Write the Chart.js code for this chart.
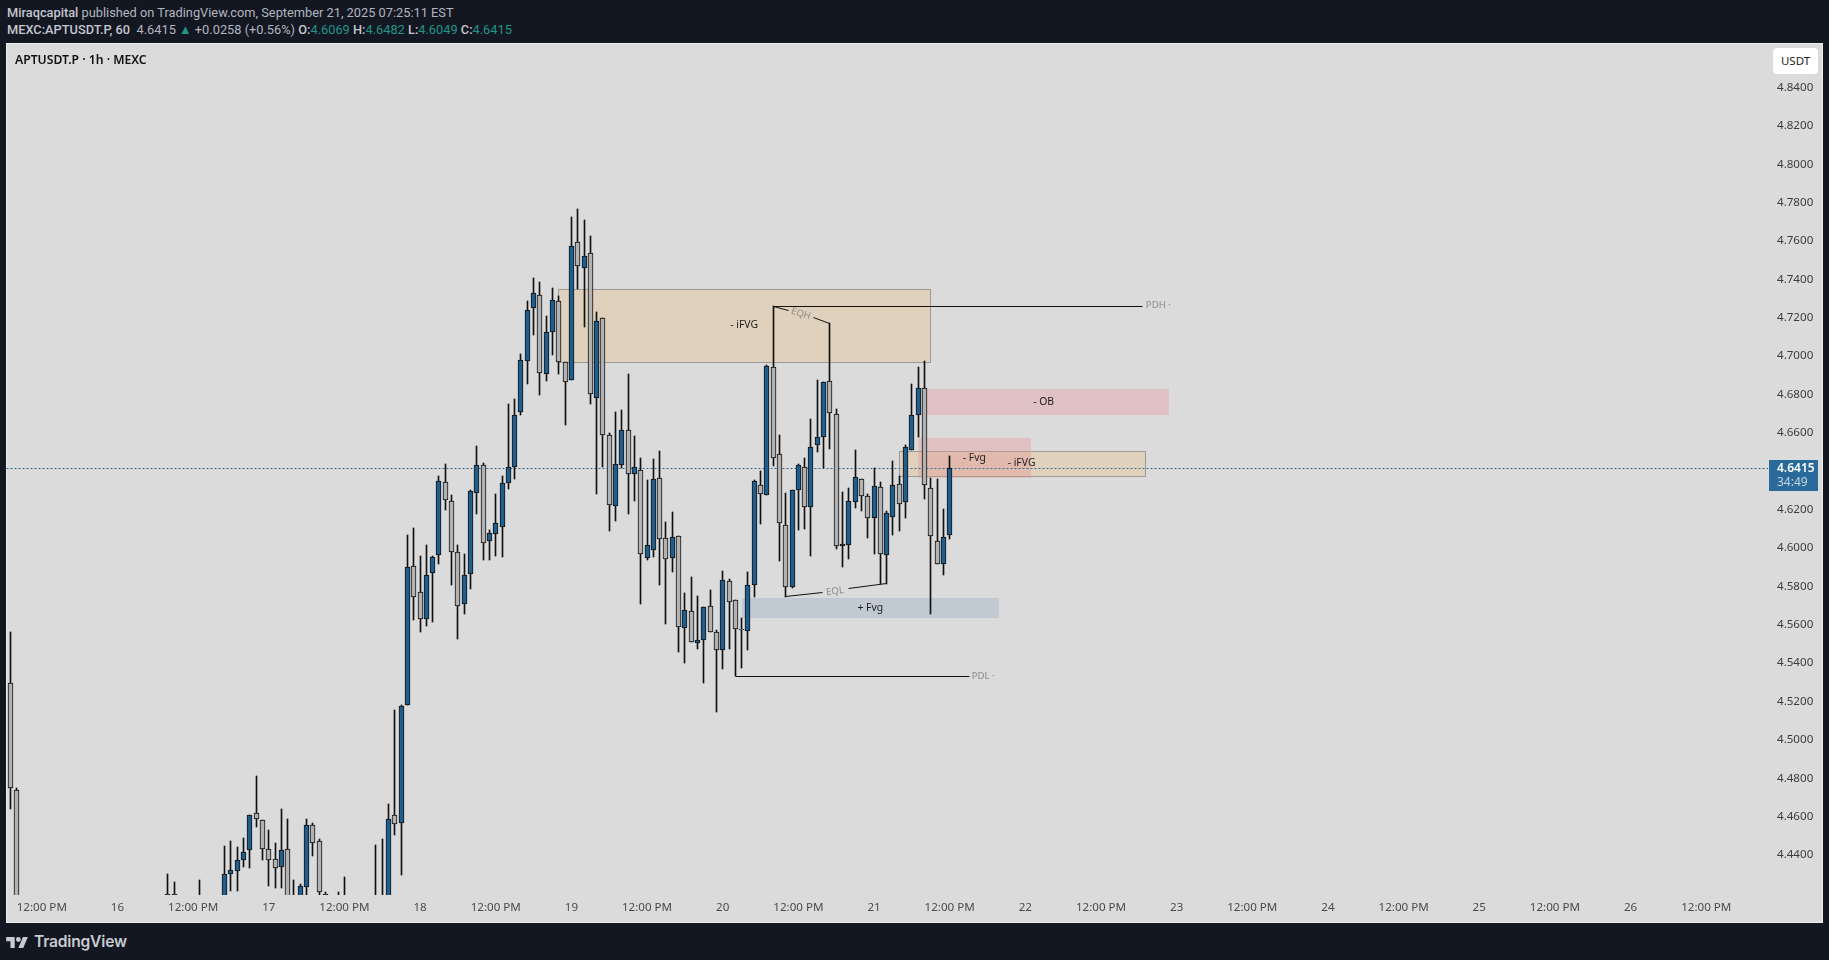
<!DOCTYPE html>
<html>
<head>
<meta charset="utf-8">
<title>APTUSDT.P 1h</title>
<script src="https://cdn.jsdelivr.net/npm/chart.js@4"></script>
<style>
  html, body { margin: 0; padding: 0; width: 1829px; height: 960px; overflow: hidden; background: #131722; font-family: "Noto Sans", sans-serif; }
  #head { position: absolute; left: 7px; top: 4px; color: #b2b5be; font-family: Roboto, sans-serif; font-size: 12.8px; line-height: 17px; white-space: pre; }
  #head b { font-weight: 500; color: #c3c6ce; }
  #head i { font-style: normal; color: #1f9688; }
  #panel { position: absolute; box-sizing: border-box; left: 6px; top: 43px; width: 1817px; height: 880px; background: #dbdbdb; border: 1px solid #eeeeee; }
  #chartCanvas { position: absolute; left: 6px; top: 43px; }
  #title { position: absolute; left: 15px; top: 51px; color: #111; font-size: 12.2px; font-weight: 600; line-height: 18px; }
  #unit { position: absolute; left: 1773px; top: 48px; width: 45px; height: 26px; line-height: 26px; text-align: center; background: #fff; border-radius: 4px; font-size: 11.5px; color: #222; }
  #logo { position: absolute; left: 6px; top: 930px; color: #c9cbd1; font-family: Inter, sans-serif; font-size: 15.6px; font-weight: 600; line-height: 24px; }
  #logo svg { position: absolute; left: 0; top: 7px; }
  #logo span { position: absolute; left: 28px; top: 0; letter-spacing: -0.2px; }
</style>
</head>
<body>
<div id="head"><b>Miraqcapital</b> published on TradingView.com, September 21, 2025 07:25:11 EST
<b>MEXC:APTUSDT.P, 60</b>  4.6415 <i>▲</i> +0.0258 (+0.56%) <b>O:</b><i>4.6069</i> <b>H:</b><i>4.6482</i> <b>L:</b><i>4.6049</i> <b>C:</b><i>4.6415</i></div>
<div id="panel"></div>
<canvas id="chartCanvas" width="1817" height="880"></canvas>
<div id="title">APTUSDT.P · 1h · MEXC</div>
<div id="unit">USDT</div>
<div id="logo">
  <svg width="22" height="11" viewBox="0 4 35.5 18" fill="#c9cbd1"><path d="M14 22H7V11H0V4h14v18zM28 22h-8l7.5-18h8L28 22z"/><circle cx="20" cy="8" r="4"/></svg>
  <span>TradingView</span>
</div>

<script>
  // hourly candles, index 0 is 07:00 on the 15th. null = whole candle is below the visible pane
  var opens = [
    4.5295,4.4737,null,null,null,null,null,null,null,null,
    null,null,null,null,null,null,null,null,null,null,
    null,null,null,null,null,4.4195,4.4195,null,null,null,
    4.415,null,null,null,4.41,4.4302,4.4315,4.4375,4.4424,4.4617,
    4.4581,4.4430,4.4377,4.4336,4.4430,4.415,4.41,4.4232,4.4555,4.4471,
    4.4195,null,4.415,4.415,null,null,null,null,4.415,4.415,
    4.41,4.4607,4.4565,4.5180,4.5905,4.5769,4.5628,4.5868,4.5962,4.6342,
    4.6243,4.5978,4.5707,4.5863,4.6285,4.6431,4.6035,4.6071,4.6108,4.6337,
    4.6423,4.6707,4.6973,4.7249,4.7317,4.6905,4.7124,4.7285,4.6967,4.6874,
    4.7593,4.7458,4.7536,4.6780,4.7197,4.6587,4.6217,4.6431,4.6613,4.6384,
    4.6405,4.5946,4.5988,4.6363,4.6050,4.5946,4.6061,4.5581,4.5670,4.5503,
    4.5519,4.5696,4.5561,4.5467,4.5826,4.5727,4.5576,4.5566,4.5805,4.6327,
    4.6275,4.6942,4.6488,4.6118,4.5795,4.6301,4.6420,4.6212,4.6535,4.6577,
    4.6868,4.6697,4.6009,4.6014,4.6238,4.6358,4.6269,4.6155,4.6316,4.5962,
    4.6160,4.6332,4.6238,4.6509,4.6691,4.6832,4.6311,4.6035,4.5915,4.6069
  ];
  var highs = [
    4.5562,4.4747,null,null,null,null,null,null,null,null,
    null,null,null,null,null,null,null,null,null,null,
    null,null,null,null,null,4.43,4.4257,null,null,null,
    4.4269,null,null,null,4.4446,4.4472,4.4441,4.4488,4.4607,4.4811,
    4.4581,4.4530,4.4462,4.4640,4.4588,4.4269,4.4247,4.4588,4.4567,4.4483,
    4.4207,null,4.4207,4.4285,null,null,null,null,4.4452,4.4483,
    4.4666,4.5156,4.5180,4.6066,4.6103,4.5958,4.6014,4.5958,4.6375,4.6438,
    4.6276,4.6014,4.5967,4.6301,4.6530,4.6441,4.6092,4.6281,4.6375,4.6750,
    4.6775,4.7011,4.7285,4.7406,4.7386,4.7207,4.7353,4.7311,4.6967,4.7724,
    4.7767,4.7708,4.7625,4.7228,4.7197,4.6597,4.6707,4.6718,4.6906,4.6582,
    4.6467,4.6353,4.6464,4.6504,4.6134,4.6186,4.6061,4.5764,4.5847,4.5748,
    4.5691,4.5780,4.5571,4.5878,4.5837,4.5727,4.5633,4.5873,4.6355,4.6401,
    4.6952,4.7261,4.6589,4.6285,4.6301,4.6436,4.6469,4.6671,4.6875,4.6863,
    4.7171,4.6723,4.6290,4.6311,4.6509,4.6358,4.6280,4.6415,4.6344,4.6191,
    4.6452,4.6373,4.6535,4.6855,4.6942,4.6973,4.6363,4.6358,4.6202,4.6482
  ];
  var lows = [
    4.4639,4.39,null,null,null,null,null,null,null,null,
    null,null,null,null,null,null,null,null,null,null,
    null,null,null,null,null,4.405,4.405,null,null,null,
    4.405,null,null,null,4.405,4.4212,4.4212,4.4337,4.4332,4.4546,
    4.4373,4.4238,4.4227,4.4227,4.405,4.405,4.405,4.41,4.4395,4.41,
    4.405,null,4.405,4.405,null,null,null,null,4.405,4.405,
    4.405,4.4504,4.4296,4.5180,4.5625,4.5562,4.5595,4.5616,4.5918,4.6198,
    4.5809,4.5527,4.5656,4.5788,4.6177,4.5939,4.5939,4.5960,4.5955,4.6309,
    4.6361,4.6693,4.6856,4.7111,4.6799,4.6872,4.7007,4.6908,4.6642,4.6874,
    4.7350,4.7153,4.6752,4.6283,4.6420,4.6090,4.6142,4.6418,4.6179,4.6246,
    4.5710,4.5939,4.5955,4.5809,4.5605,4.5876,4.5460,4.5402,4.5508,4.5472,
    4.5298,4.5561,4.5147,4.5371,4.5475,4.5331,4.5376,4.5470,4.5746,4.6127,
    4.6275,4.6429,4.5934,4.5746,4.5790,4.6094,4.6099,4.5960,4.6502,4.6415,
    4.6517,4.5993,4.5902,4.5944,4.6207,4.6194,4.6054,4.5970,4.5811,4.5814,
    4.6069,4.6090,4.6158,4.6509,4.6578,4.6255,4.5654,4.5915,4.5861,4.6049
  ];
  var closes = [
    4.4747,4.40,null,null,null,null,null,null,null,null,
    null,null,null,null,null,null,null,null,null,null,
    null,null,null,null,null,4.41,4.41,null,null,null,
    4.41,null,null,null,4.4299,4.4320,4.4372,4.4414,4.4607,4.4586,
    4.4430,4.4372,4.4330,4.4424,4.41,4.41,4.4237,4.4555,4.4462,4.4205,
    4.41,null,4.41,4.41,null,null,null,null,4.41,4.41,
    4.4586,4.4560,4.5175,4.5899,4.5743,4.5628,4.5858,4.5951,4.6347,4.6248,
    4.5978,4.5696,4.5858,4.6295,4.6431,4.6024,4.6076,4.6129,4.6337,4.6420,
    4.6691,4.6978,4.7239,4.7327,4.6910,4.7124,4.7290,4.6967,4.6863,4.7573,
    4.7468,4.7520,4.6801,4.7181,4.6587,4.6222,4.6436,4.6613,4.6384,4.6420,
    4.5967,4.6014,4.6358,4.6045,4.5941,4.6056,4.5587,4.5675,4.5508,4.5519,
    4.5691,4.5561,4.5467,4.5832,4.5717,4.5576,4.5573,4.5805,4.6347,4.6280,
    4.6947,4.6467,4.6129,4.5795,4.6301,4.6431,4.6212,4.6525,4.6577,4.6863,
    4.6702,4.6009,4.6019,4.6243,4.6368,4.6269,4.6155,4.6321,4.5967,4.6181,
    4.6326,4.6228,4.6525,4.6691,4.6832,4.6327,4.6061,4.5915,4.6056,4.6415
  ];

  var lastPrice = 4.6415;
  var countdown = "34:49";

  var priceTicks = [4.44,4.46,4.48,4.50,4.52,4.54,4.56,4.58,4.60,4.62,4.66,4.68,4.70,4.72,4.74,4.76,4.78,4.80,4.82,4.84];
  var timeTicks = [5,17,29,41,53,65,77,89,101,113,125,137,149,161,173,185,197,209,221,233,245,257,269];
  var timeLabels = ["12:00 PM","16","12:00 PM","17","12:00 PM","18","12:00 PM","19","12:00 PM","20","12:00 PM","21","12:00 PM","22","12:00 PM","23","12:00 PM","24","12:00 PM","25","12:00 PM","26","12:00 PM"];

  // boxes: [from candle, to candle, top price, bottom price]
  var zoneBigIfvg = [86.93, 145.94, 4.7348, 4.6968];
  var zoneOb = [145, 183.8, 4.6829, 4.6695];
  var zoneSmallIfvg = [140.9, 179.95, 4.6504, 4.6374];
  var zoneFvgDown = [144, 161.9, 4.6573, 4.6365];
  var zoneFvgUp = [116, 156.9, 4.5738, 4.5635];

  // drawn lines: [candle, price] pairs
  var pdhLine = [[121, 4.7261], [179.6, 4.7261]];
  var pdlLine = [[115, 4.5331], [152.1, 4.5331]];
  var eqhLeft = [[121, 4.7261], [123.4, 4.7237]];
  var eqhRight = [[127.4, 4.7199], [130, 4.7171]];
  var eqlLeft = [[123, 4.5746], [128.8, 4.5767]];
  var eqlRight = [[132.9, 4.5788], [139, 4.5814]];

  // notes: [text, candle, price, angle in degrees]
  var boxNotes = [
    ["- iFVG", 116.4, 4.7161, 0],
    ["- Fvg", 152.9, 4.6469, 0],
    ["- iFVG", 160.4, 4.6441, 0],
    ["- OB", 163.9, 4.6763, 0],
    ["+ Fvg", 136.4, 4.5689, 0]
  ];
  var lineNotes = [
    ["PDH ·", 182.1, 4.7263, 0],
    ["PDL ·", 154.3, 4.5333, 0],
    ["EQH", 125.4, 4.7220, 17],
    ["EQL", 130.8, 4.5774, -7]
  ];

  var upColor = "#205e8e";
  var downColor = "#b2b2b2";
  var tagColor = "#2a6a9a";

  var bodies = [], wicks = [], bodyColors = [];
  for (var i = 0; i < opens.length; i++) {
    if (opens[i] === null) continue;
    bodies.push({ x: i, y: [opens[i], closes[i]] });
    wicks.push({ x: i, y: [lows[i], highs[i]] });
    bodyColors.push(closes[i] >= opens[i] ? upColor : downColor);
  }

  function toPoints(pairs) {
    return pairs.map(function (p) { return { x: p[0], y: p[1] }; });
  }

  function lineDataset(pairs) {
    return { type: "line", data: toPoints(pairs), borderColor: "#111", borderWidth: 1, pointRadius: 0, tension: 0, order: 1 };
  }

  function drawZone(ctx, sx, sy, zone, fill, edge) {
    var left = Math.round(sx.getPixelForValue(zone[0]));
    var right = Math.round(sx.getPixelForValue(zone[1]));
    var top = Math.round(sy.getPixelForValue(zone[2]));
    var bottom = Math.round(sy.getPixelForValue(zone[3]));
    ctx.fillStyle = fill;
    ctx.fillRect(left, top, right - left, bottom - top);
    if (edge) {
      ctx.strokeStyle = edge;
      ctx.lineWidth = 1;
      ctx.strokeRect(left + 0.5, top + 0.5, right - left, bottom - top);
    }
  }

  function drawNotes(ctx, sx, sy, list) {
    list.forEach(function (n) {
      ctx.save();
      ctx.translate(sx.getPixelForValue(n[1]), sy.getPixelForValue(n[2]));
      ctx.rotate(n[3] * Math.PI / 180);
      ctx.fillText(n[0], 0, 0);
      ctx.restore();
    });
  }

  var drawingsPlugin = {
    id: "drawings",
    // keep candles and lines on whole pixels so they stay crisp
    afterDatasetsUpdate: function (chart) {
      chart.data.datasets.forEach(function (ds, d) {
        chart.getDatasetMeta(d).data.forEach(function (el) {
          el.x = Math.floor(el.x) + 0.5;
          if (ds.type === "line") {
            el.y = Math.floor(el.y) + 0.5;
          } else {
            el.y = Math.round(el.y);
            el.base = Math.round(el.base);
          }
        });
      });
    },
    beforeDatasetsDraw: function (chart) {
      var ctx = chart.ctx, sx = chart.scales.x, sy = chart.scales.y;
      ctx.save();
      drawZone(ctx, sx, sy, zoneBigIfvg, "#dfd1bc", "#9b9a94");
      drawZone(ctx, sx, sy, zoneOb, "#e0c1c4", null);
      drawZone(ctx, sx, sy, zoneSmallIfvg, "#dfd1bc", "#9b9a94");
      drawZone(ctx, sx, sy, zoneFvgDown, "rgba(232,150,150,0.38)", null);
      drawZone(ctx, sx, sy, zoneFvgUp, "#c1c9d2", null);
      ctx.restore();
    },
    afterDatasetsDraw: function (chart) {
      var ctx = chart.ctx, sx = chart.scales.x, sy = chart.scales.y;
      ctx.save();
      ctx.textAlign = "center";
      ctx.textBaseline = "middle";
      ctx.font = '10.4px "Noto Sans"';
      ctx.fillStyle = "#1c1c1c";
      drawNotes(ctx, sx, sy, boxNotes);
      ctx.font = '9.6px "Noto Sans"';
      ctx.fillStyle = "#8c8c8c";
      drawNotes(ctx, sx, sy, lineNotes);

      // last price tag on the price axis
      var tagY = sy.getPixelForValue(lastPrice);
      var tagLeft = sx.right + 1;
      ctx.fillStyle = tagColor;
      ctx.fillRect(tagLeft, Math.round(tagY) - 8, 49, 31);
      ctx.textAlign = "left";
      ctx.fillStyle = "#ffffff";
      ctx.font = '600 12px "Noto Sans"';
      ctx.fillText(lastPrice.toFixed(4), tagLeft + 8, tagY + 0.5);
      ctx.fillStyle = "#c4d6e3";
      ctx.font = '12px "Noto Sans"';
      ctx.fillText(countdown, tagLeft + 8, tagY + 14.5);
      ctx.restore();
    }
  };

  var ctx = document.getElementById("chartCanvas").getContext("2d");
  var chart = new Chart(ctx, {
    type: "bar",
    data: {
      datasets: [
        { data: wicks, backgroundColor: "#111", barThickness: 1, grouped: false, order: 3 },
        { data: bodies, backgroundColor: bodyColors, borderColor: "#111", borderWidth: 1, borderSkipped: false, barThickness: 5, grouped: false, order: 2 },
        { type: "line", data: toPoints([[-0.68, lastPrice], [278.8, lastPrice]]), borderColor: tagColor, borderWidth: 1, borderDash: [2, 2], pointRadius: 0, order: 5 },
        lineDataset(pdhLine),
        lineDataset(pdlLine),
        lineDataset(eqhLeft),
        lineDataset(eqhRight),
        lineDataset(eqlLeft),
        lineDataset(eqlRight)
      ]
    },
    options: {
      responsive: false,
      animation: false,
      devicePixelRatio: 1,
      layout: { padding: 0 },
      plugins: { legend: { display: false }, title: { display: false }, tooltip: { enabled: false } },
      scales: {
        x: {
          type: "linear",
          offset: false,
          min: -0.68,
          max: 278.8,
          grid: { display: false, drawTicks: false },
          border: { display: false },
          afterBuildTicks: function (scale) {
            scale.ticks = timeTicks.map(function (v) { return { value: v }; });
          },
          afterFit: function (scale) {
            scale.height = 28;
            scale.paddingLeft = 0;
            scale.paddingRight = 0;
          },
          ticks: {
            autoSkip: false,
            maxRotation: 0,
            padding: 6,
            color: "#4a4a4a",
            font: { family: "Noto Sans", size: 11.6 },
            callback: function (value) {
              return timeLabels[timeTicks.indexOf(value)];
            }
          }
        },
        y: {
          position: "right",
          min: 4.41914,
          max: 4.86319,
          grid: { display: false, drawTicks: false },
          border: { display: false },
          afterBuildTicks: function (scale) {
            scale.ticks = priceTicks.map(function (v) { return { value: v }; });
          },
          afterFit: function (scale) {
            scale.width = 55;
            scale.paddingTop = 0;
            scale.paddingBottom = 0;
          },
          ticks: {
            autoSkip: false,
            padding: 9,
            color: "#3c3c3c",
            font: { family: "Noto Sans", size: 11.6 },
            callback: function (value) { return value.toFixed(4); }
          }
        }
      }
    },
    plugins: [drawingsPlugin]
  });
</script>
</body>
</html>
